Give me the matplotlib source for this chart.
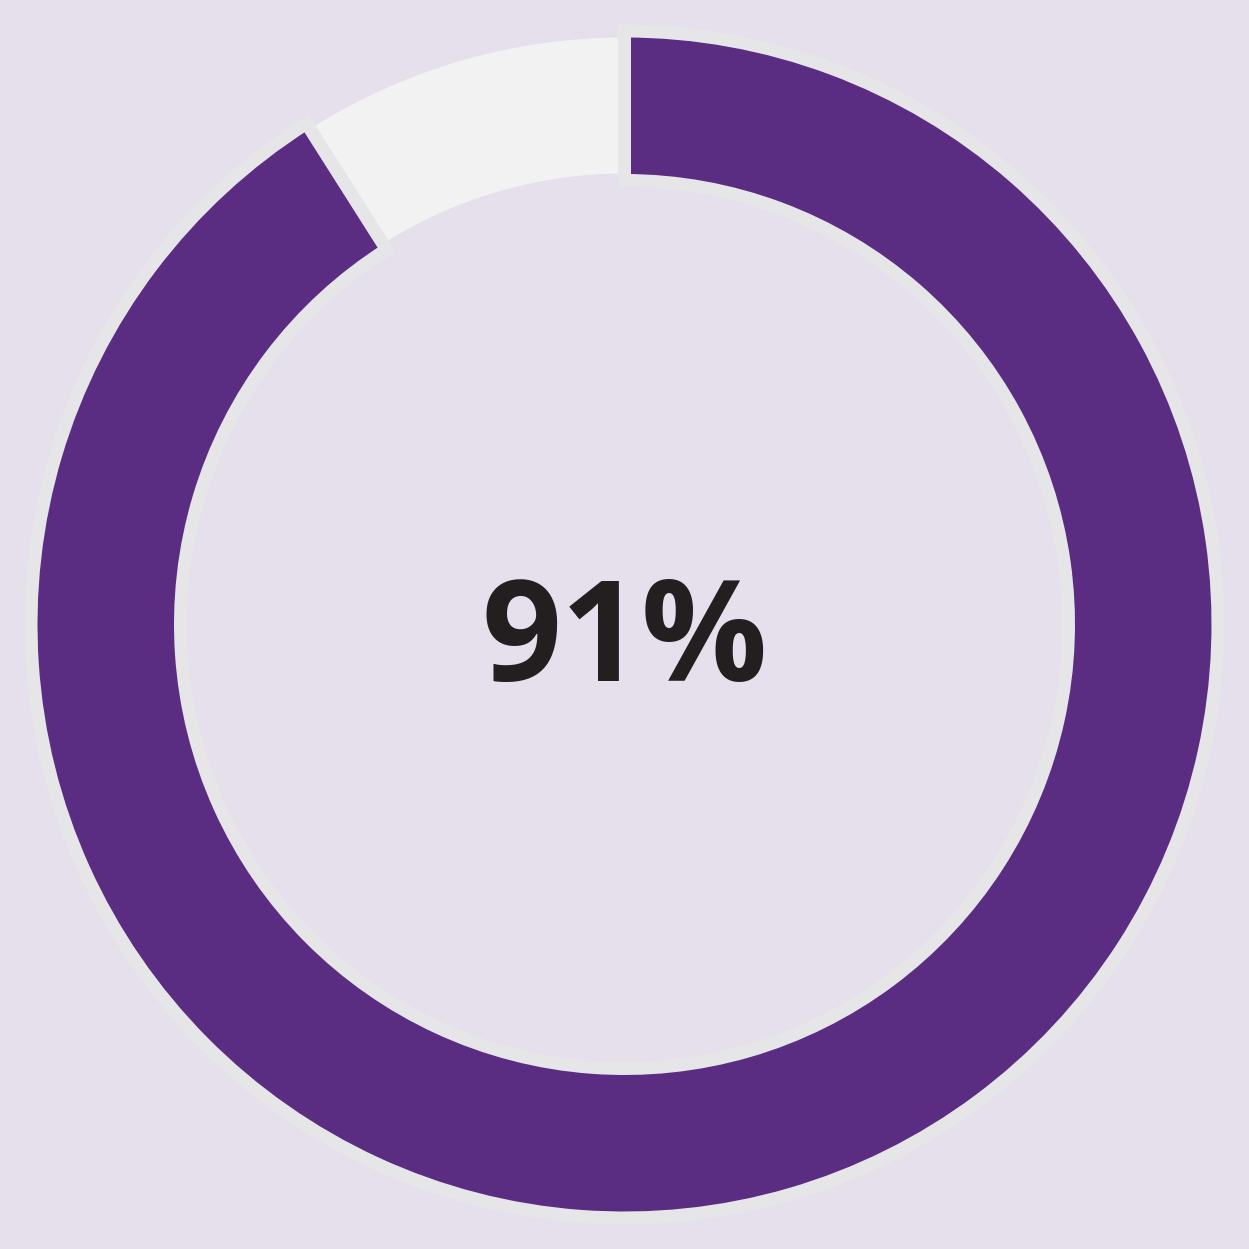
import matplotlib
matplotlib.use("Agg")
import matplotlib.pyplot as plt

labels = ["Yes", "No"]
values = [91, 9]
center_label = "91%"

bg = "#e5e0ec"
purple = "#5b2d82"
light = "#f2f2f2"
stroke = "#e6e6e8"

W = 1249
fig = plt.figure(figsize=(W / 100, W / 100), dpi=100, facecolor=bg)
ax = fig.add_axes([0, 0, 1, 1])
ax.set_facecolor(bg)
half = W / 2
ax.set_xlim(-half, half)
ax.set_ylim(-half, half)
ax.set_aspect("equal")
ax.axis("off")

# light (remaining) ring, no edge
w_light, _ = ax.pie(values, radius=587, startangle=90, counterclock=False,
                    colors=["none", light],
                    wedgeprops=dict(width=136, edgecolor="none", linewidth=0))
# purple ring with light grey stroke
w_purple, _ = ax.pie(values, radius=593.5, startangle=90, counterclock=False,
                     colors=[purple, "none"],
                     wedgeprops=dict(width=149.5, edgecolor=stroke, linewidth=13 * 0.72))
w_purple[1].set_edgecolor("none")

ax.set_xlim(-half, half)
ax.set_ylim(-half, half)

ax.text(0, -56, center_label, ha="center", va="baseline", fontsize=101,
        fontweight="bold", color="#231f20", family=["Open Sans", "DejaVu Sans"])

fig.savefig("out.png", dpi=100, facecolor=bg)
